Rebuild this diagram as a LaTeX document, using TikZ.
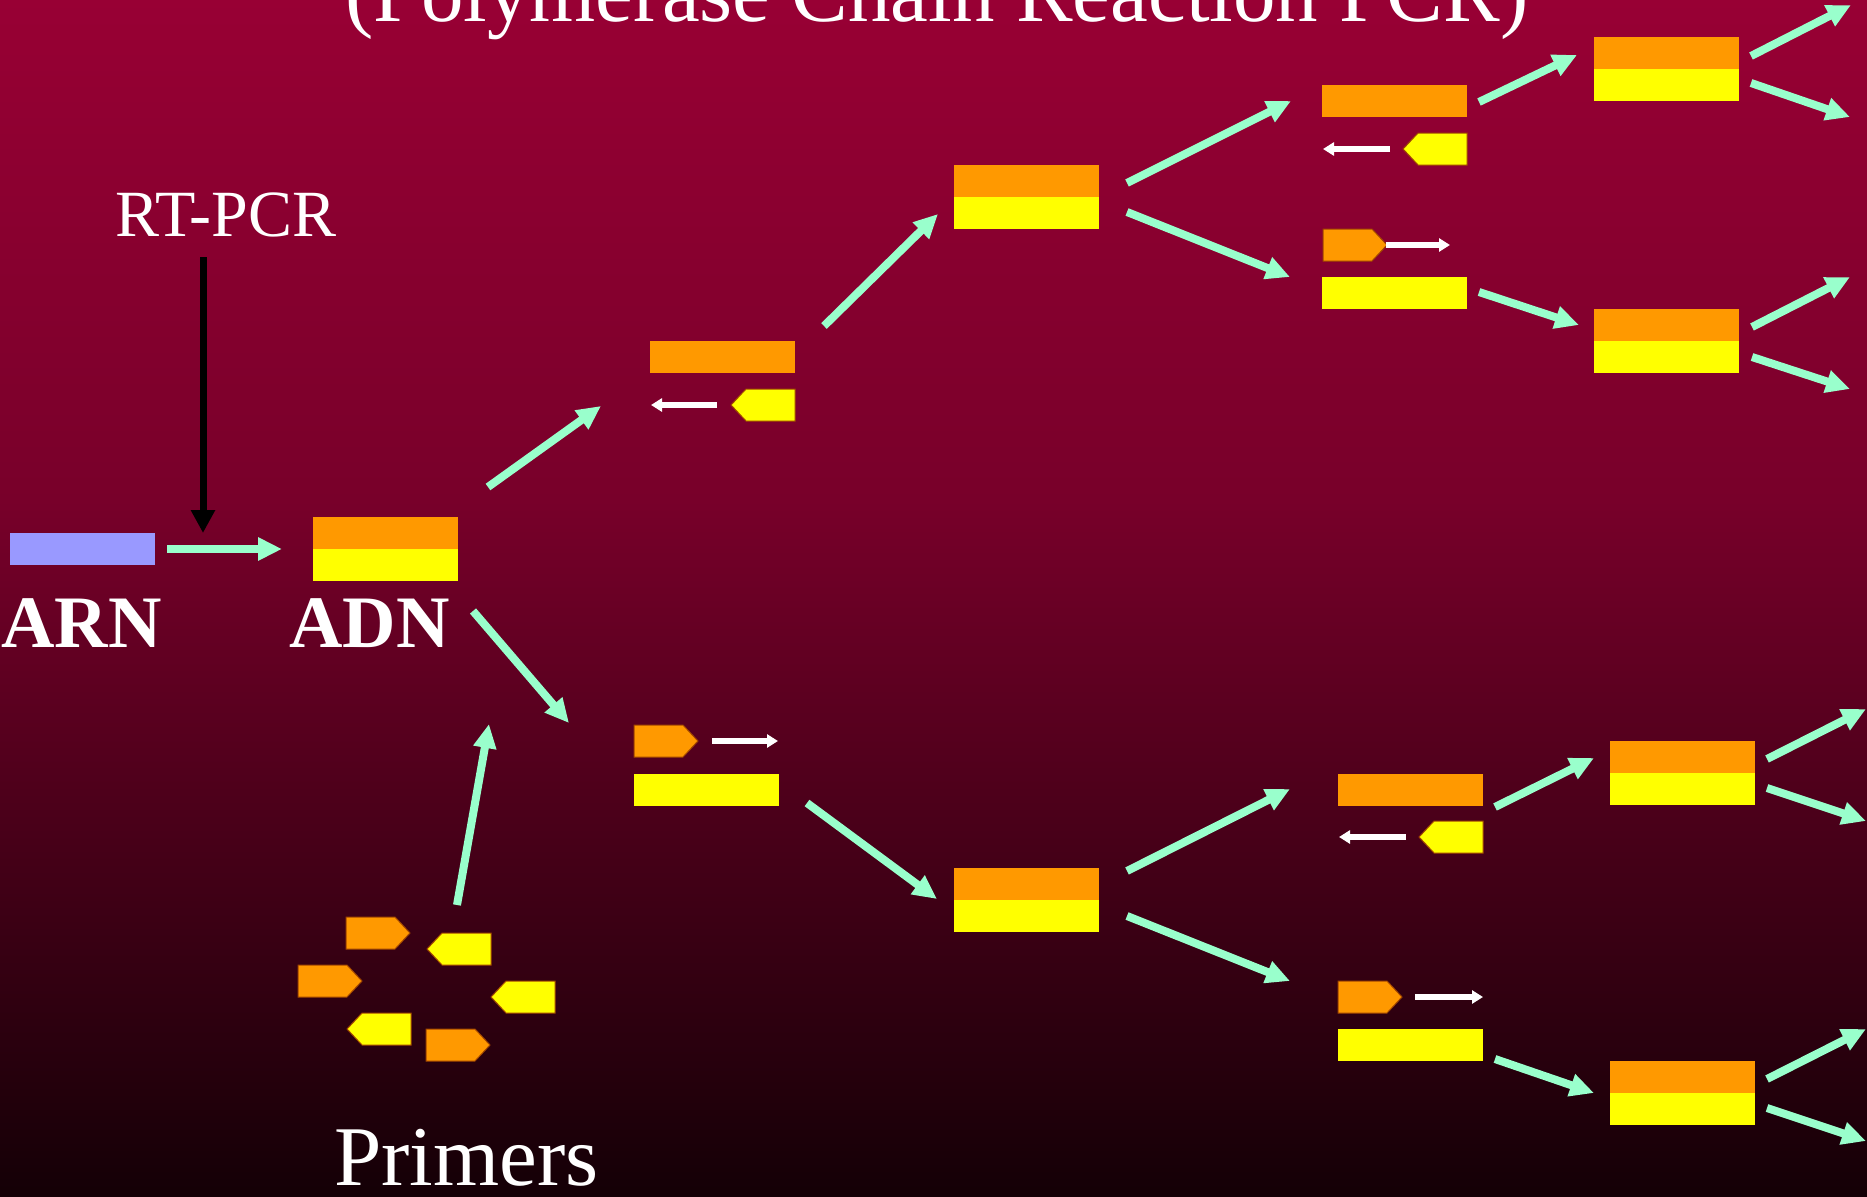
\documentclass[tikz,border=0pt]{standalone}
\usepackage{fontspec}
\setmainfont{Liberation Serif}
\usetikzlibrary{arrows.meta}
\definecolor{dnaorange}{HTML}{FF9900}
\definecolor{dnayellow}{HTML}{FFFF00}
\definecolor{rnablue}{HTML}{9999FF}
\definecolor{mint}{HTML}{99FFCC}
\definecolor{bgtop}{RGB}{152,0,52}
\definecolor{bgmid}{RGB}{120,0,42}
\definecolor{bgbot}{RGB}{20,0,6}
\definecolor{primeredge}{RGB}{160,70,0}
\tikzset{
  strand/.style={rectangle, inner sep=0pt, minimum width=145pt, minimum height=32pt, draw=none},
  primer/.style={draw=primeredge, line width=1pt},
  primR/.pic={\path[primer, fill=#1] (0,0) -- (49,0) -- (64,16) -- (49,32) -- (0,32) -- cycle; \coordinate (-c) at (32,16);},
  primL/.pic={\path[primer, fill=#1] (64,0) -- (15,0) -- (0,16) -- (15,32) -- (64,32) -- cycle; \coordinate (-c) at (32,16);},
  mintarrow/.style={draw=mint, line width=8pt, -{Triangle[length=24pt,width=22pt]}},
  whitearrow/.style={draw=white, line width=5.5pt, -{Triangle[length=11pt,width=13pt]}},
  blackarrow/.style={draw=black, line width=7pt, -{Triangle[length=23pt,width=23pt]}},
  lbl/.style={text=white, inner sep=0pt, anchor=base west},
}
\begin{document}
\begin{tikzpicture}[x=1pt,y=-1pt]
\useasboundingbox (0,0) rectangle (1867,1196);
\clip (0,0) rectangle (1867,1196);
\shade[top color=bgtop, bottom color=bgmid] (0,0) rectangle (1867,501);
\shade[top color=bgmid, bottom color=bgbot] (0,500) rectangle (1867,1196);

% texts
\node[text=white, inner sep=0pt, anchor=base, font=\fontsize{85}{100}\selectfont] (title) at (937,22) {(Polymerase Chain Reaction PCR)};
\node[lbl, font=\fontsize{66}{78}\selectfont] (rtpcr) at (115,236) {RT-PCR};
\node[lbl, font=\fontsize{74}{88}\selectfont\bfseries] (arnlbl) at (1,647) {ARN};
\node[lbl, font=\fontsize{74}{88}\selectfont\bfseries] (adnlbl) at (289,647) {ADN};
\node[lbl, font=\fontsize{85}{100}\selectfont] (primlbl) at (334,1185) {Primers};

% ARN and ADN
\node[strand, fill=rnablue] (arn) at (82.5,549) {};
\node[strand, fill=dnaorange] (adnT) at (385.5,533) {};
\node[strand, fill=dnayellow] (adnB) at (385.5,565) {};

% upper single strand (cycle 1)
\node[strand, fill=dnaorange] (u1bar) at (722.5,357) {};
\pic (u1p) at (731,389) {primL=dnayellow};
\coordinate (u1ws) at (717,405); \coordinate (u1we) at (651,405);
\draw[whitearrow] (u1ws) -- (u1we);

% lower single strand (cycle 1)
\pic (d1p) at (634,725) {primR=dnaorange};
\coordinate (d1ws) at (712,741); \coordinate (d1we) at (778,741);
\draw[whitearrow] (d1ws) -- (d1we);
\node[strand, fill=dnayellow] (d1bar) at (706.5,790) {};

% level 2 doubles
\node[strand, fill=dnaorange] (l2tT) at (1026.5,181) {};
\node[strand, fill=dnayellow] (l2tB) at (1026.5,213) {};
\node[strand, fill=dnaorange] (l2bT) at (1026.5,884) {};
\node[strand, fill=dnayellow] (l2bB) at (1026.5,916) {};

% level 3 groups
\node[strand, fill=dnaorange] (ttbar) at (1394.5,101) {};
\pic (ttp) at (1403,133) {primL=dnayellow};
\coordinate (ttws) at (1390,149); \coordinate (ttwe) at (1323,149);
\draw[whitearrow] (ttws) -- (ttwe);

\pic (tbp) at (1323,229) {primR=dnaorange};
\coordinate (tbws) at (1386,245); \coordinate (tbwe) at (1450,245);
\draw[whitearrow] (tbws) -- (tbwe);
\node[strand, fill=dnayellow] (tbbar) at (1394.5,293) {};

\node[strand, fill=dnaorange] (btbar) at (1410.5,790) {};
\pic (btp) at (1419,821) {primL=dnayellow};
\coordinate (btws) at (1406,837); \coordinate (btwe) at (1339,837);
\draw[whitearrow] (btws) -- (btwe);

\pic (bbp) at (1338,981) {primR=dnaorange};
\coordinate (bbws) at (1415,997); \coordinate (bbwe) at (1483,997);
\draw[whitearrow] (bbws) -- (bbwe);
\node[strand, fill=dnayellow] (bbbar) at (1410.5,1045) {};

% level 4 doubles
\node[strand, fill=dnaorange] (q1T) at (1666.5,53) {};
\node[strand, fill=dnayellow] (q1B) at (1666.5,85) {};
\node[strand, fill=dnaorange] (q2T) at (1666.5,325) {};
\node[strand, fill=dnayellow] (q2B) at (1666.5,357) {};
\node[strand, fill=dnaorange] (q3T) at (1682.5,757) {};
\node[strand, fill=dnayellow] (q3B) at (1682.5,789) {};
\node[strand, fill=dnaorange] (q4T) at (1682.5,1077) {};
\node[strand, fill=dnayellow] (q4B) at (1682.5,1109) {};

% free primers
\pic (p1) at (346,917) {primR=dnaorange};
\pic (p2) at (427,933) {primL=dnayellow};
\pic (p3) at (298,965) {primR=dnaorange};
\pic (p4) at (491,981) {primL=dnayellow};
\pic (p5) at (347,1013) {primL=dnayellow};
\pic (p6) at (426,1029) {primR=dnaorange};

% RT-PCR arrow
\coordinate (rts) at (203,257); \coordinate (rte) at (203,533);
\draw[blackarrow] (rts) -- (rte);

% mint arrows
\coordinate (a0s) at (167,549);  \coordinate (a0e) at (282,549);
\coordinate (a1s) at (488,487);  \coordinate (a1e) at (601,406);
\coordinate (a2s) at (473,611);  \coordinate (a2e) at (569,723);
\coordinate (a3s) at (824,326);  \coordinate (a3e) at (938,214);
\coordinate (a4s) at (807,803);  \coordinate (a4e) at (937,899);
\coordinate (a5s) at (457,905);  \coordinate (a5e) at (489,724);
\coordinate (a6s) at (1127,183); \coordinate (a6e) at (1291,101);
\coordinate (a7s) at (1127,212); \coordinate (a7e) at (1290,277);
\coordinate (a8s) at (1479,102); \coordinate (a8e) at (1577,55);
\coordinate (a9s) at (1751,56);  \coordinate (a9e) at (1851,5);
\coordinate (a10s) at (1751,83); \coordinate (a10e) at (1850,117);
\coordinate (a11s) at (1479,292); \coordinate (a11e) at (1579,325);
\coordinate (a12s) at (1752,327); \coordinate (a12e) at (1850,277);
\coordinate (a13s) at (1752,357); \coordinate (a13e) at (1850,389);
\coordinate (a14s) at (1127,871); \coordinate (a14e) at (1290,789);
\coordinate (a15s) at (1127,916); \coordinate (a15e) at (1290,981);
\coordinate (a16s) at (1495,807); \coordinate (a16e) at (1594,758);
\coordinate (a17s) at (1767,759); \coordinate (a17e) at (1866,709);
\coordinate (a18s) at (1767,788); \coordinate (a18e) at (1866,821);
\coordinate (a19s) at (1495,1059); \coordinate (a19e) at (1594,1093);
\coordinate (a20s) at (1767,1079); \coordinate (a20e) at (1866,1029);
\coordinate (a21s) at (1767,1108); \coordinate (a21e) at (1866,1141);
\foreach \i in {0,...,21} {\draw[mintarrow] (a\i s) -- (a\i e);}
\end{tikzpicture}
\end{document}
